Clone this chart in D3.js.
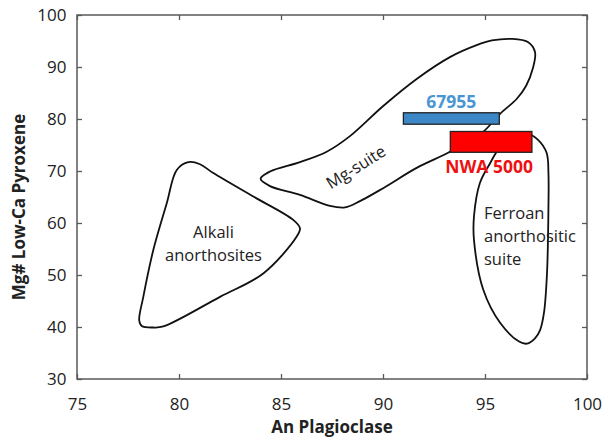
<!DOCTYPE html>
<html>
<head>
<meta charset="utf-8">
<script src="https://cdn.jsdelivr.net/npm/d3@7"></script>
<style>
  body { margin: 0; background: white; }
  text { font-family: "Open Sans", "DejaVu Sans", sans-serif; }
</style>
</head>
<body>
<script>
// axis ticks
var xTicks = [75, 80, 85, 90, 95, 100]
var yTicks = [30, 40, 50, 60, 70, 80, 90, 100]

// field outlines, [An, Mg#]
var alkaliField = [
	[80.46, 71.7], [81.03, 71.3], [81.68, 69.6], [83.64, 65.1], [85.6, 60.6], [85.93, 59.0],
	[85.77, 57.4], [84.13, 50.3], [82.01, 45.8], [79.23, 40.1], [78.74, 39.9], [78.17, 40.2],
	[78.05, 41.3], [78.25, 45.8], [78.74, 54.8], [79.4, 63.8], [79.89, 70.2]
]
var mgSuiteField = [
	[84.0, 68.5], [84.46, 69.9], [85.93, 71.7], [87.24, 73.7], [88.38, 76.7], [90.01, 82.5],
	[91.65, 87.7], [93.28, 91.9], [94.59, 94.2], [95.34, 95.1], [96.32, 95.4], [97.1, 94.8],
	[97.45, 92.9], [97.35, 89.8], [97.01, 86.35], [96.55, 83.85], [95.74, 81.0], [94.9, 77.5],
	[94.02, 75.4], [93.19, 73.5], [91.65, 70.6], [90.01, 66.7], [88.87, 64.2], [88.14, 63.0],
	[87.4, 63.3], [85.93, 65.4], [84.46, 67.1]
]
var ferroanField = [
	[95.74, 74.6], [96.32, 76.2], [97.1, 77.1], [97.6, 76.0], [98.02, 73.5], [98.11, 69.6],
	[98.11, 63.1], [98.04, 50.4], [97.89, 42.7], [97.7, 39.4], [97.45, 37.8], [97.06, 36.8],
	[96.67, 37.2], [95.74, 40.8], [94.92, 47.1], [94.46, 56.7], [94.46, 61.3], [94.75, 67.7],
	[95.25, 71.5]
]

// sample ranges: name, An min/max, Mg# min/max
var sampleNames = ["67955", "NWA 5000"]
var sampleAn = [[91.0, 95.7], [93.3, 97.3]]
var sampleMg = [[79.0, 81.2], [73.6, 77.6]]
var sampleFill = ["#3d87c7", "#ff0000"]
var sampleText = ["#4a96d2", "#ee1111"]

var width = 602, height = 439
var svg = d3.select("body").append("svg")
	.attr("width", width).attr("height", height)

var x = d3.scaleLinear().domain([75, 100]).range([77, 587])
var y = d3.scaleLinear().domain([30, 100]).range([379, 15])

var axisColor = "#595959"

// fields
var line = d3.line()
	.x(function(d) { return x(d[0]) })
	.y(function(d) { return y(d[1]) })
	.curve(d3.curveCatmullRomClosed.alpha(0.5))

var fields = [alkaliField, mgSuiteField, ferroanField]
svg.append("g").selectAll("path").data(fields).enter().append("path")
	.attr("d", line)
	.attr("fill", "none")
	.attr("stroke", "#111")
	.attr("stroke-width", 1.8)

// axes, ticks pointing inward
var bottom = svg.append("g").attr("transform", "translate(0," + y(30) + ")")
	.call(d3.axisBottom(x).tickValues(xTicks).tickSize(-5).tickPadding(19))
var top = svg.append("g").attr("transform", "translate(0," + y(100) + ")")
	.call(d3.axisTop(x).tickValues(xTicks).tickSize(-5).tickFormat(""))
var left = svg.append("g").attr("transform", "translate(" + x(75) + ",0)")
	.call(d3.axisLeft(y).tickValues(yTicks).tickSize(-5).tickPadding(10.5))
var right = svg.append("g").attr("transform", "translate(" + x(100) + ",0)")
	.call(d3.axisRight(y).tickValues(yTicks).tickSize(-5).tickFormat(""))

svg.selectAll(".domain").remove()
svg.selectAll(".tick line").attr("stroke", axisColor).attr("stroke-width", 1.3)
svg.selectAll(".tick text")
	.attr("fill", "#222")
	.style("font-size", "17px")
	.style("font-family", "'Open Sans', sans-serif")

svg.append("rect")
	.attr("x", x(75)).attr("y", y(100))
	.attr("width", x(100) - x(75)).attr("height", y(30) - y(100))
	.attr("fill", "none").attr("stroke", axisColor).attr("stroke-width", 1.5)

// sample bars
svg.append("g").selectAll("rect").data(sampleNames).enter().append("rect")
	.attr("x", function(d, i) { return x(sampleAn[i][0]) })
	.attr("width", function(d, i) { return x(sampleAn[i][1]) - x(sampleAn[i][0]) })
	.attr("y", function(d, i) { return y(sampleMg[i][1]) })
	.attr("height", function(d, i) { return y(sampleMg[i][0]) - y(sampleMg[i][1]) })
	.attr("fill", function(d, i) { return sampleFill[i] })
	.attr("stroke", "#222")
	.attr("stroke-width", 1.3)

// sample labels: first above its bar, second below
svg.append("text")
	.attr("x", x((sampleAn[0][0] + sampleAn[0][1]) / 2))
	.attr("y", y(sampleMg[0][1]) - 4.5)
	.attr("text-anchor", "middle")
	.attr("fill", sampleText[0])
	.style("font-size", "17.5px").style("font-weight", "bold")
	.text(sampleNames[0])
svg.append("text")
	.attr("x", x((sampleAn[1][0] + sampleAn[1][1]) / 2) - 2)
	.attr("y", y(sampleMg[1][0]) + 20.5)
	.attr("text-anchor", "middle")
	.attr("fill", sampleText[1])
	.style("font-size", "17.5px").style("font-weight", "bold")
	.text(sampleNames[1])

// field labels
function label(lines, px, py, anchor, rot) {
	var t = svg.append("text")
		.attr("transform", "translate(" + px + "," + py + ")" + (rot ? " rotate(" + rot + ")" : ""))
		.attr("text-anchor", anchor)
		.attr("fill", "#222")
		.style("font-size", "16.5px")
	lines.forEach(function(s, i) {
		t.append("tspan").attr("x", 0).attr("y", i * 23.4).text(s)
	})
}
label(["Alkali", "anorthosites"], 213.5, 237.5, "middle")
label(["Mg-suite"], 359, 172, "middle", -32)
label(["Ferroan", "anorthositic", "suite"], 484, 218.5, "start")

// axis titles
svg.append("text")
	.attr("x", (x(75) + x(100)) / 2).attr("y", 433)
	.attr("text-anchor", "middle")
	.attr("fill", "#222")
	.style("font-size", "17px").style("font-weight", "bold")
	.text("An Plagioclase")
svg.append("text")
	.attr("transform", "translate(25," + 207 + ") rotate(-90)")
	.attr("text-anchor", "middle")
	.attr("fill", "#222")
	.style("font-size", "17px").style("font-weight", "bold")
	.text("Mg# Low-Ca Pyroxene")
</script>
</body>
</html>
